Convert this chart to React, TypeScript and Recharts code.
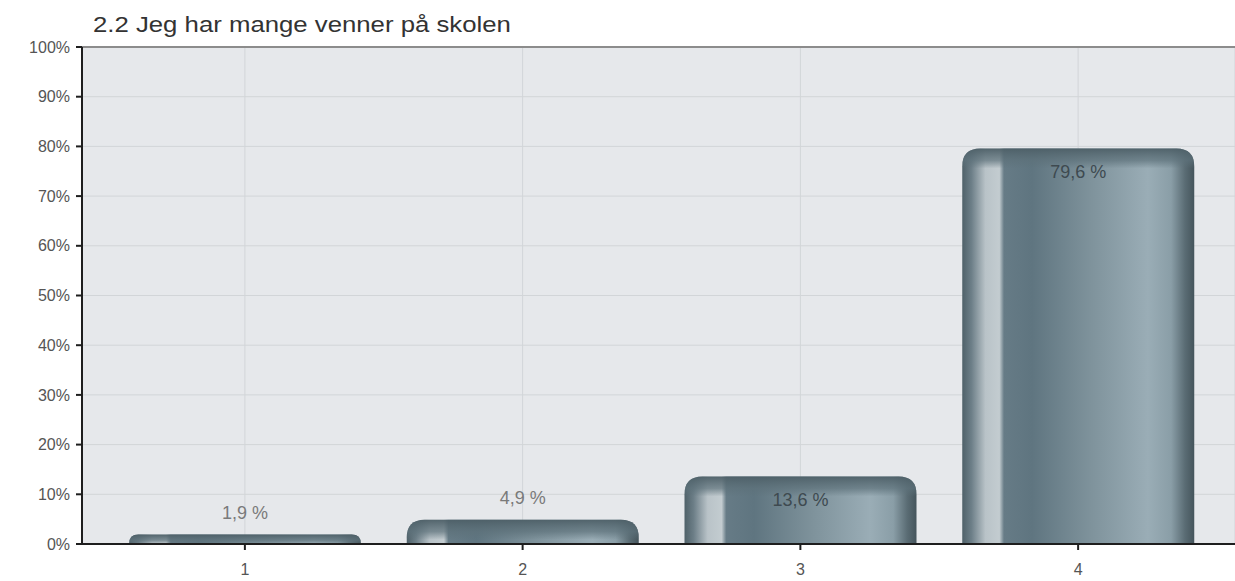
import React from "react";
import {
  BarChart,
  Bar,
  XAxis,
  YAxis,
  CartesianGrid,
  ReferenceLine,
  LabelList,
} from "recharts";

const categories = ["1", "2", "3", "4"];
const percentValues = [1.9, 4.9, 13.6, 79.6];
const valueLabels = ["1,9 %", "4,9 %", "13,6 %", "79,6 %"];
const yTicks = [0, 10, 20, 30, 40, 50, 60, 70, 80, 90, 100];
const title = "2.2 Jeg har mange venner på skolen";

const data = categories.map((c, i) => ({
  name: c,
  value: percentValues[i],
  label: valueLabels[i],
}));

const FONT = '"Liberation Sans", Arial, sans-serif';

const CylinderBar = (props: any) => {
  const { x, y, width, height } = props;
  if (!height || height <= 0) return null;
  const r = Math.min(18, height, width / 2);
  const d = `M${x},${y + height} L${x},${y + r} Q${x},${y} ${x + r},${y} L${x + width - r},${y} Q${x + width},${y} ${x + width},${y + r} L${x + width},${y + height} Z`;
  const capH = Math.min(20, height);
  const capD = `M${x},${y + capH} L${x},${y + r} Q${x},${y} ${x + r},${y} L${x + width - r},${y} Q${x + width},${y} ${x + width},${y + r} L${x + width},${y + capH} Z`;
  return (
    <g>
      <path d={d} fill="url(#barBody)" />
      <path d={capD} fill="url(#barCap)" />
    </g>
  );
};

const renderLabel = (props: any) => {
  const { x, y, width, value, index } = props;
  const v = percentValues[index];
  const inside = v >= 10;
  const cx = x + width / 2;
  return (
    <text
      x={cx}
      y={inside ? y + 30 : y - 16}
      textAnchor="middle"
      fontFamily={FONT}
      fontSize={18}
      fill={inside ? "#3e4a50" : "#7a7a7a"}
    >
      {value}
    </text>
  );
};

export default function App() {
  return (
    <div
      style={{
        position: "absolute",
        left: 0,
        top: 0,
        width: 1235,
        height: 581,
        background: "#ffffff",
        overflow: "hidden",
      }}
    >
      <div
        style={{
          position: "absolute",
          left: 93,
          top: 12,
          fontFamily: FONT,
          fontSize: 22,
          color: "#333333",
          whiteSpace: "nowrap",
          transform: "scaleX(1.17)",
          transformOrigin: "0 0",
          zIndex: 2,
        }}
      >
        {title}
      </div>
      <BarChart
        width={1235}
        height={581}
        data={data}
        margin={{ top: 47, right: 0, bottom: 0, left: 0 }}
        barSize={232}
      >
        <defs>
          <linearGradient id="barBody" x1="0" y1="0" x2="1" y2="0">
            <stop offset="0%" stopColor="#4f6169" />
            <stop offset="4%" stopColor="#6d7f88" />
            <stop offset="10%" stopColor="#b9c3c8" />
            <stop offset="16%" stopColor="#c3ccd0" />
            <stop offset="18%" stopColor="#667b86" />
            <stop offset="30%" stopColor="#5f7580" />
            <stop offset="55%" stopColor="#7e929b" />
            <stop offset="80%" stopColor="#9aadb6" />
            <stop offset="90%" stopColor="#8a9ea7" />
            <stop offset="96%" stopColor="#5a6c74" />
            <stop offset="100%" stopColor="#45555c" />
          </linearGradient>
          <linearGradient id="barCap" x1="0" y1="0" x2="0" y2="1">
            <stop offset="0%" stopColor="#4d5f67" stopOpacity={0.95} />
            <stop offset="60%" stopColor="#5d717a" stopOpacity={0.7} />
            <stop offset="100%" stopColor="#5d717a" stopOpacity={0} />
          </linearGradient>
        </defs>
        <CartesianGrid fill="#e6e8eb" stroke="#d2d5d8" strokeWidth={1} />
        <XAxis
          dataKey="name"
          height={37}
          padding={{ left: 24, right: 18 }}
          axisLine={{ stroke: "#1e1e1e", strokeWidth: 2 }}
          tickLine={{ stroke: "#1e1e1e", strokeWidth: 2 }}
          tickSize={6}
          tickMargin={14}
          tick={{ fill: "#555555", fontSize: 16, fontFamily: FONT }}
        />
        <YAxis
          width={82}
          domain={[0, 100]}
          ticks={yTicks}
          interval={0}
          tickFormatter={(v: number) => `${v}%`}
          axisLine={{ stroke: "#1e1e1e", strokeWidth: 2 }}
          tickLine={{ stroke: "#1e1e1e", strokeWidth: 2 }}
          tickSize={6}
          tickMargin={6}
          tick={{ fill: "#555555", fontSize: 16, fontFamily: FONT }}
        />
        <ReferenceLine y={100} stroke="#8c8c8c" strokeWidth={2} />
        <Bar dataKey="value" shape={<CylinderBar />} isAnimationActive={false}>
          <LabelList dataKey="label" content={renderLabel} />
        </Bar>
      </BarChart>
    </div>
  );
}
